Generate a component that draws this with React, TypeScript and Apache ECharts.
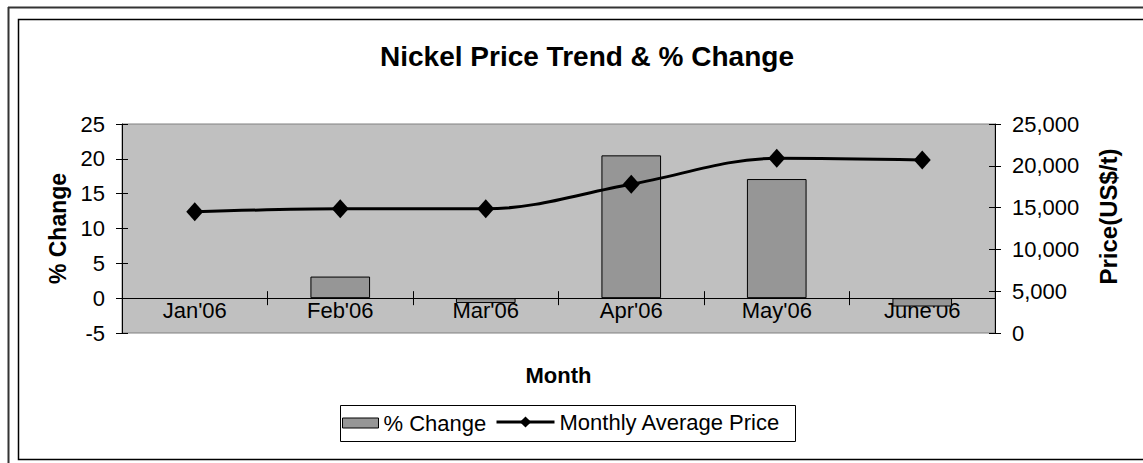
import React, { useEffect, useRef } from "react";
import * as echarts from "echarts";

const months = ["Jan'06", "Feb'06", "Mar'06", "Apr'06", "May'06", "June'06"];
const pctChange: (number | string)[] = ["-", 3.1, -0.7, 20.5, 17.1, -1.2];
const avgPrice = [14500, 14850, 14850, 17800, 20900, 20700];
const pctTicks = { min: -5, max: 25, interval: 5 };
const priceTicks = { min: 0, max: 25000, interval: 5000 };

const FONT = "'Liberation Sans', Arial, sans-serif";

export default function App() {
  const ref = useRef<HTMLDivElement>(null);
  useEffect(() => {
    if (!ref.current) return;
    const chart = echarts.init(ref.current, undefined, { renderer: "svg" });
    const tickFont = { fontFamily: FONT, fontSize: 22, color: "#000" };
    const gridTop = 124;
    const gridBottom = 130;
    const plotH = 463 - gridTop - gridBottom;
    // offset that puts the category axis on the zero line of the % axis
    const zeroOffset = -(plotH * (0 - pctTicks.min)) / (pctTicks.max - pctTicks.min);
    chart.setOption({
      animation: false,
      backgroundColor: "#fff",
      title: {
        text: "Nickel Price Trend & % Change",
        left: 582,
        top: 37,
        textAlign: "center",
        textStyle: { fontFamily: FONT, fontSize: 28, fontWeight: "bold", color: "#000" },
      },
      grid: {
        left: 122,
        right: 148,
        top: gridTop,
        bottom: gridBottom,
        show: true,
        backgroundColor: "#C0C0C0",
        borderColor: "#808080",
        borderWidth: 1,
      },
      legend: [
        {
          data: [
            {
              name: "% Change",
              icon: "rect",
              itemStyle: { color: "#969696", borderColor: "#000", borderWidth: 1 },
            },
          ],
          left: 342,
          top: 412,
          padding: 0,
          itemWidth: 36,
          itemHeight: 10,
          textStyle: { fontFamily: FONT, fontSize: 22, color: "#000" },
        },
        {
          data: ["Monthly Average Price"],
          left: 495,
          top: 411,
          padding: 0,
          itemWidth: 58,
          itemHeight: 14,
          lineStyle: { width: 3, color: "#000" },
          textStyle: { fontFamily: FONT, fontSize: 22, color: "#000" },
        },
      ],
      xAxis: [
        {
          type: "category",
          data: months,
          position: "bottom",
          offset: zeroOffset,
          name: "Month",
          nameLocation: "middle",
          nameGap: 66,
          nameTextStyle: { fontFamily: FONT, fontSize: 22, fontWeight: "bold", color: "#000" },
          axisLine: { show: true, onZero: false, lineStyle: { color: "#000", width: 1 } },
          axisTick: { show: true, length: 7, lineStyle: { color: "#000" } },
          axisLabel: { ...tickFont, margin: 1 },
          splitLine: { show: false },
        },
        {
          type: "category",
          data: months,
          position: "bottom",
          offset: zeroOffset,
          axisLine: { show: false, onZero: false },
          axisTick: { show: true, inside: true, length: 7, lineStyle: { color: "#000" } },
          axisLabel: { show: false },
          splitLine: { show: false },
        },
      ],
      yAxis: [
        {
          type: "value",
          ...pctTicks,
          position: "left",
          name: "% Change",
          nameLocation: "middle",
          nameRotate: 90,
          nameGap: 50,
          nameTextStyle: { fontFamily: FONT, fontSize: 23, fontWeight: "bold", color: "#000" },
          axisLine: { show: true, onZero: false, lineStyle: { color: "#000" } },
          axisTick: { show: true, length: 6, lineStyle: { color: "#000" } },
          axisLabel: { ...tickFont, margin: 17 },
          splitLine: { show: false },
        },
        {
          type: "value",
          ...priceTicks,
          position: "right",
          name: "Price(US$/t)",
          nameLocation: "middle",
          nameRotate: 90,
          nameGap: 101,
          nameTextStyle: {
            fontFamily: FONT,
            fontSize: 24,
            fontWeight: "bold",
            color: "#000",
            padding: [0, 0, 0, 24],
          },
          axisLine: { show: true, onZero: false, lineStyle: { color: "#000" } },
          axisTick: { show: true, length: 6, lineStyle: { color: "#000" } },
          axisLabel: {
            ...tickFont,
            margin: 17,
            formatter: (v: number) => v.toLocaleString("en-US"),
          },
          splitLine: { show: false },
        },
        {
          type: "value",
          ...pctTicks,
          position: "left",
          axisLine: { show: false, onZero: false },
          axisTick: { show: true, inside: true, length: 6, lineStyle: { color: "#000" } },
          axisLabel: { show: false },
          splitLine: { show: false },
        },
        {
          type: "value",
          ...priceTicks,
          position: "right",
          axisLine: { show: false, onZero: false },
          axisTick: { show: true, inside: true, length: 6, lineStyle: { color: "#000" } },
          axisLabel: { show: false },
          splitLine: { show: false },
        },
      ],
      series: [
        {
          name: "% Change",
          type: "bar",
          xAxisIndex: 0,
          yAxisIndex: 0,
          data: pctChange,
          barWidth: "41%",
          itemStyle: { color: "#969696", borderColor: "#000", borderWidth: 1 },
        },
        {
          name: "Monthly Average Price",
          type: "line",
          xAxisIndex: 0,
          yAxisIndex: 1,
          data: avgPrice,
          smooth: 0.35,
          symbol: "diamond",
          symbolSize: [17, 19],
          lineStyle: { color: "#000", width: 3 },
          itemStyle: { color: "#000" },
        },
      ],
      graphic: [
        { type: "line", z: 0, shape: { x1: 8, y1: 7.5, x2: 1143, y2: 7.5 }, style: { stroke: "#333", lineWidth: 2 } },
        { type: "line", z: 0, shape: { x1: 8.5, y1: 7, x2: 8.5, y2: 463 }, style: { stroke: "#333", lineWidth: 2 } },
        {
          type: "rect",
          z: 0,
          shape: { x: 18.5, y: 19.5, width: 1140, height: 440 },
          style: { fill: "none", stroke: "#000", lineWidth: 1.5 },
        },
        {
          type: "rect",
          z: 1,
          shape: { x: 340.5, y: 405.5, width: 455, height: 36 },
          style: { fill: "#fff", stroke: "#000", lineWidth: 1 },
        },
      ],
    });
    return () => chart.dispose();
  }, []);
  return (
    <div
      ref={ref}
      style={{ position: "absolute", left: 0, top: 0, width: 1143, height: 463 }}
    />
  );
}
